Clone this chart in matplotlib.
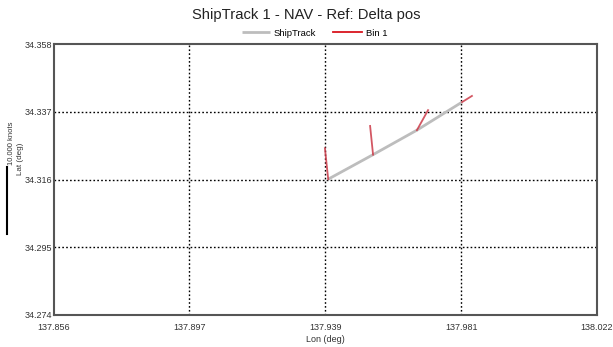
import matplotlib
matplotlib.use('Agg')
from matplotlib import pyplot as plt
import numpy as np

plt.rcParams['font.family'] = ['Liberation Sans', 'DejaVu Sans']

# ship track positions
track_lon = [137.9399, 137.9536, 137.9670, 137.9808]
track_lat = [34.3161, 34.3237, 34.3313, 34.3400]

# tip of each bin 1 velocity vector, drawn from the matching track point
bin_lon = [137.9389, 137.9527, 137.9704, 137.9838]
bin_lat = [34.3257, 34.3326, 34.3375, 34.3419]

lon_ticks = [137.856, 137.8975, 137.939, 137.9805, 138.022]
lon_labels = ['137.856', '137.897', '137.939', '137.981', '138.022']
lat_ticks = [34.274, 34.295, 34.316, 34.337, 34.358]
lat_labels = ['34.274', '34.295', '34.316', '34.337', '34.358']

fig = plt.figure(figsize=(6.13, 3.47), dpi=100)
ax = fig.add_axes([53.5 / 613, 1 - 315 / 347, 543.5 / 613, 271 / 347])

ax.plot(track_lon, track_lat, color='#bdbdbd', lw=2, label='ShipTrack', zorder=3, solid_capstyle='butt')
for i in range(len(track_lon)):
    ax.plot([track_lon[i], bin_lon[i]], [track_lat[i], bin_lat[i]],
            color='#cc3a48', lw=1.3, alpha=0.85, zorder=4,
            label='Bin 1' if i == 0 else None)

ax.set_xlim(lon_ticks[0], lon_ticks[-1])
ax.set_ylim(lat_ticks[0], lat_ticks[-1])
ax.set_xticks(lon_ticks)
ax.set_xticklabels(lon_labels)
ax.set_yticks(lat_ticks)
ax.set_yticklabels(lat_labels)
ax.tick_params(length=0, labelsize=6.5, colors='#333333', pad=1)
ax.tick_params(axis='x', pad=6)

# grid only on the inner ticks
for x in lon_ticks[1:-1]:
    ax.axvline(x, color='black', lw=1, ls=(0, (1.2, 1.6)), zorder=1)
for y in lat_ticks[1:-1]:
    ax.axhline(y, color='black', lw=1, ls=(0, (1.2, 1.6)), zorder=1)

for s in ax.spines.values():
    s.set_color('#555555')
    s.set_linewidth(1.5)

ax.set_xlabel('Lon (deg)', fontsize=6.5, color='#333333', labelpad=2)

fig.text(0.5, 1 - 15 / 347, 'ShipTrack 1 - NAV - Ref: Delta pos', ha='center', va='center',
         fontsize=10.6, color='#222222')

leg = fig.legend(loc='center', bbox_to_anchor=(0.513, 1 - 33 / 347), ncol=2, frameon=False,
                 fontsize=6.8, handlelength=3.0, columnspacing=1.8, handletextpad=0.4)
leg.get_lines()[1].set_color('#d9141e')
leg.get_lines()[1].set_alpha(1)

# speed scale bar and y label
fig.add_artist(plt.Line2D([7 / 613, 7 / 613], [1 - 167 / 347, 1 - 234 / 347],
                          color='black', lw=1.5, transform=fig.transFigure))
fig.text(11.5 / 613, 1 - 143 / 347, '10.000 knots', rotation=90, ha='center', va='center',
         fontsize=5.5, color='#333333')
fig.text(20.5 / 613, 1 - 159 / 347, 'Lat (deg)', rotation=90, ha='center', va='center',
         fontsize=5.8, color='#333333')

fig.savefig('out.png', dpi=100)
